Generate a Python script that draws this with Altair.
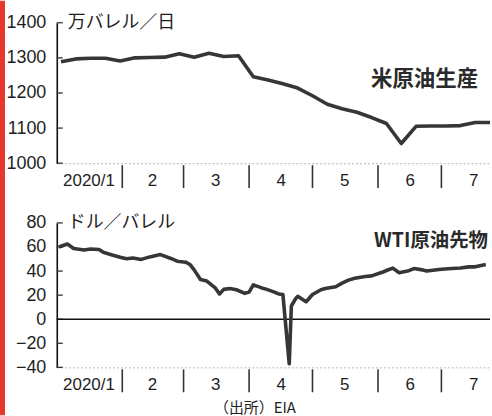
import altair as alt
import pandas as pd

# ---- data ----
prod_dates = ["2020-01-03", "2020-01-10", "2020-01-17", "2020-01-24", "2020-01-31",
              "2020-02-07", "2020-02-14", "2020-02-21", "2020-02-28",
              "2020-03-06", "2020-03-13", "2020-03-20", "2020-03-27",
              "2020-04-03", "2020-04-10", "2020-04-17", "2020-04-24",
              "2020-05-01", "2020-05-08", "2020-05-15", "2020-05-22", "2020-05-29",
              "2020-06-05", "2020-06-12", "2020-06-19", "2020-06-26",
              "2020-07-03", "2020-07-10", "2020-07-17", "2020-07-24"]
prod_values = [1289, 1297, 1299, 1299, 1291,
               1300, 1301, 1302, 1312,
               1302, 1313, 1304, 1306,
               1246, 1237, 1226, 1214,
               1192, 1168, 1155, 1145, 1130,
               1113, 1056, 1105, 1106,
               1106, 1107, 1116, 1116]

wti_dates = ["2020-01-02", "2020-01-06", "2020-01-09", "2020-01-14", "2020-01-17",
             "2020-01-21", "2020-01-23", "2020-01-28", "2020-01-31", "2020-02-03",
             "2020-02-06", "2020-02-10", "2020-02-14", "2020-02-19", "2020-02-21",
             "2020-02-24", "2020-02-27", "2020-03-02", "2020-03-04", "2020-03-06",
             "2020-03-09", "2020-03-12", "2020-03-16", "2020-03-18", "2020-03-20",
             "2020-03-23", "2020-03-26", "2020-03-30", "2020-04-01", "2020-04-03",
             "2020-04-07", "2020-04-09", "2020-04-13", "2020-04-15", "2020-04-17",
             "2020-04-20", "2020-04-21", "2020-04-23", "2020-04-24", "2020-04-28",
             "2020-05-01", "2020-05-05", "2020-05-07", "2020-05-12", "2020-05-15",
             "2020-05-18", "2020-05-21", "2020-05-26", "2020-05-29", "2020-06-03",
             "2020-06-05", "2020-06-08", "2020-06-11", "2020-06-15", "2020-06-18",
             "2020-06-22", "2020-06-24", "2020-06-26", "2020-07-01", "2020-07-06",
             "2020-07-10", "2020-07-14", "2020-07-17", "2020-07-22"]
wti_values = [60.0, 62.5, 58.8, 57.5, 58.3,
              57.9, 55.6, 53.0, 51.5, 50.2,
              50.8, 49.7, 51.8, 53.7, 52.4,
              50.5, 48.2, 47.4, 45.5, 41.0,
              33.0, 31.7, 26.0, 21.0, 24.8,
              25.5, 24.5, 21.5, 22.5, 28.5,
              26.0, 25.0, 22.5, 21.0, 20.5,
              -37.0, 11.0, 17.0, 19.0, 14.5,
              20.5, 24.5, 25.5, 27.0, 30.0,
              32.5, 34.0, 35.5, 36.0, 39.0,
              40.5, 42.5, 38.6, 40.0, 42.1,
              41.0, 40.0, 40.5, 41.5, 42.1,
              42.5, 43.5, 43.5, 45.5]

month_starts = ["2020-02-01", "2020-03-01", "2020-04-01", "2020-05-01", "2020-06-01", "2020-07-01"]
label_days = [(1, 16), (2, 15), (3, 16), (4, 16), (5, 16), (6, 16), (7, 16)]
prod_ticks = [1000, 1100, 1200, 1300, 1400]
wti_ticks = [-40, -20, 0, 20, 40, 60, 80]
wti_zero = [0]

prod_unit = "万バレル／日"
prod_name = "米原油生産"
wti_unit = "ドル／バレル"
wti_name = "WTI原油先物"
source = "（出所）EIA"

# ---- styling ----
W = 435
H1 = 141
H2 = 145
NUM_FONT = "Liberation Sans Narrow, Liberation Sans, Arial, sans-serif"
JP_FONT = "Noto Sans CJK JP"
INK = "#1e1e1e"
LINE = "#363636"

xscale = alt.Scale(type="utc", nice=False,
                   domain=[alt.DateTime(year=2020, month=1, date=1, utc=True),
                           alt.DateTime(year=2020, month=7, date=24, utc=True)])
xaxis = alt.Axis(values=[alt.DateTime(year=2020, month=m, date=d, utc=True) for m, d in label_days],
                 labelExpr="utcmonth(datum.value) == 0 ? '2020/1' : '' + (utcmonth(datum.value) + 1)",
                 ticks=False, tickSize=0, grid=False, title=None,
                 domainColor="#b5b5b5", domainDash=[2, 2], domainWidth=1,
                 labelFont=NUM_FONT, labelFontSize=17, labelColor=INK,
                 labelPadding=9, labelFlush=False, labelOverlap=False)


def xenc():
    return alt.X("date:T", scale=xscale, axis=xaxis)


def panel(dates, values, ticks, domain, H, unit, name, name_xy, name_size,
          pre=None, zero=None, post=None):
    yscale = alt.Scale(domain=domain, nice=False, zero=False)
    yaxis = alt.Axis(values=ticks, format="d", ticks=False, tickSize=0, grid=False, title=None,
                     domainColor="#111", domainWidth=1.6,
                     labelFont=NUM_FONT, labelFontSize=18, labelColor=INK,
                     labelPadding=11, labelOverlap=False, labelFlush=False)
    df = pd.DataFrame({"date": dates, "value": values})
    line = alt.Chart(df).mark_line(color=LINE, strokeWidth=3.6, strokeJoin="round").encode(
        x=xenc(), y=alt.Y("value:Q", scale=yscale, axis=yaxis))
    tdf = pd.DataFrame({"value": ticks})
    tickmarks = alt.Chart(tdf).mark_rule(color="#333", strokeWidth=1.3).encode(
        y=alt.Y("value:Q", scale=yscale, axis=yaxis), x=alt.value(0), x2=alt.value(6))
    mdf = pd.DataFrame({"date": month_starts})
    seps = alt.Chart(mdf).mark_rule(color="#333", strokeWidth=1.6).encode(
        x=xenc(), y=alt.value(H + 2), y2=alt.value(H + 25))
    one = pd.DataFrame({"k": [0]})
    unit_t = alt.Chart(one).mark_text(align="left", baseline="middle", font=JP_FONT,
                                      fontSize=18, color=INK).encode(
        x=alt.value(11), y=alt.value(0), text=alt.value(unit))
    name_t = alt.Chart(one).mark_text(align="right", baseline="middle", font=JP_FONT,
                                      fontSize=name_size, fontWeight="bold", color="#2a2a2a").encode(
        x=alt.value(name_xy[0]), y=alt.value(name_xy[1]), text=alt.value(name))
    layers = [tickmarks]
    if zero is not None:
        zl = alt.Chart(pd.DataFrame({"value": zero})).mark_rule(color="#111", strokeWidth=1.5).encode(
            y=alt.Y("value:Q", scale=yscale, axis=yaxis))
        layers.append(zl)
    layers += [seps, line, unit_t, name_t]
    if pre is not None:
        layers = pre + layers
    if post is not None:
        layers = layers + post
    return alt.layer(*layers).properties(width=W, height=H)


one = pd.DataFrame({"k": [0]})
red_bar = alt.Chart(one).mark_rect(color="#e5372c").encode(
    x=alt.value(-57), x2=alt.value(-52), y=alt.value(-22), y2=alt.value(394))

top = panel(prod_dates, prod_values, prod_ticks, [1000, 1400], H1,
            prod_unit, prod_name, (423, 57), 21.5, pre=[red_bar])

src = alt.Chart(one).mark_text(align="center", baseline="middle", font=JP_FONT,
                               fontSize=15, color=INK).encode(
    x=alt.value(199), y=alt.value(186), text=alt.value(source))

bottom = panel(wti_dates, wti_values, wti_ticks, [-40, 80], H2,
               wti_unit, wti_name, (433, 18), 19.5, zero=wti_zero, post=[src])

chart = alt.vconcat(top, bottom, spacing=60, bounds="flush").properties(
    padding=0, background="white"
).configure_view(stroke=None)

chart.save("out.html", embed_options={"renderer": "svg", "actions": False})
